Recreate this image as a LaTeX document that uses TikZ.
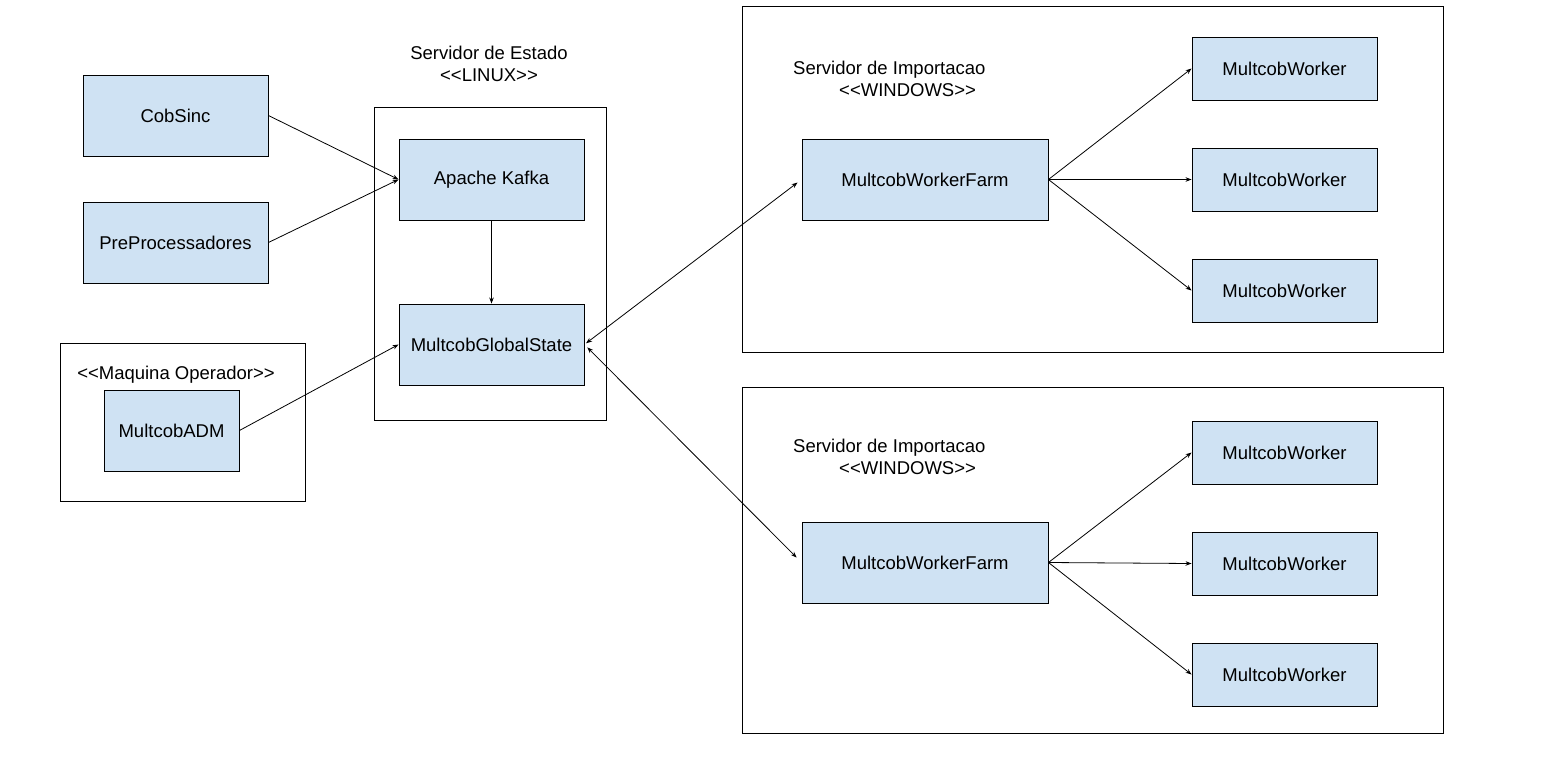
\documentclass[tikz,border=0pt]{standalone}
\usepackage{fontspec}
\setmainfont{Liberation Sans}[Ligatures=TeXOff]
\usepackage{xcolor}
\usetikzlibrary{arrows.meta,positioning}
\definecolor{boxblue}{HTML}{CFE2F3}

\begin{document}
\begin{tikzpicture}[x=1pt, y=-1pt,
    comp/.style={draw=black, fill=boxblue, line width=0.9pt, inner sep=0pt,
        minimum width=185pt, minimum height=81pt,
        font=\fontsize{18.5}{22}\selectfont},
    worker/.style={comp, minimum height=63pt},
    frame/.style={draw=black, line width=0.9pt},
    lbl/.style={inner sep=0pt, font=\fontsize{18.5}{22}\selectfont},
    link/.style={-{Stealth[length=6pt,width=4.5pt]}, line width=0.8pt}]
    \useasboundingbox (0,0) rectangle (1550,763);

    % Frames
    \draw[frame] (60,343) rectangle (305,501);
    \draw[frame] (374,107) rectangle (606,420);
    \draw[frame] (742,6) rectangle (1443,352);
    \draw[frame] (742,387) rectangle (1443,733);

    % Frame labels
    \node[lbl, align=center] (linuxlbl) at (489,64) {Servidor de Estado\\<<LINUX>>};
    \node[lbl] (oplbl) at (176,375) {<<Maquina Operador>>};
    \node[lbl, align=left, anchor=west] (winlblA) at (793,79)
        {Servidor de Importacao\\\hspace*{46pt}<<WINDOWS>>};
    \node[lbl, align=left, anchor=west] (winlblB) at (793,457)
        {Servidor de Importacao\\\hspace*{46pt}<<WINDOWS>>};

    % Left components
    \node[comp] (cobsinc) at (175.5,115.5) {CobSinc};
    \node[comp] (prep) at (175.5,242.5) {PreProcessadores};
    \node[comp, minimum width=135pt] (adm) at (171.5,430.5) {MultcobADM};

    % Servidor de Estado
    \node[comp] (kafka) at (491.5,179.5) {Apache Kafka};
    \node[comp] (global) at (491.5,344.5) {MultcobGlobalState};

    % Servidores de Importacao
    \node[comp, minimum width=246pt] (farmA) at (925,179.5) {MultcobWorkerFarm};
    \node[comp, minimum width=246pt] (farmB) at (925,562.5) {MultcobWorkerFarm};
    \foreach \i/\y in {1/68.5, 2/179.5, 3/290.5} {
        \node[worker] (wa\i) at (1284.5,\y) {MultcobWorker};
    }
    \foreach \i/\y in {1/452.5, 2/563.5, 3/674.5} {
        \node[worker] (wb\i) at (1284.5,\y) {MultcobWorker};
    }

    % Connectors
    \draw[link] (cobsinc.east) -- (kafka.west);
    \draw[link] (prep.east) -- (kafka.west);
    \draw[link] (adm.east) -- (global.west);
    \draw[link] (kafka) -- (global);
    \draw[link, {Stealth[length=6pt,width=4.5pt]}-{Stealth[length=6pt,width=4.5pt]},
        shorten <=2pt, shorten >=5pt] (global.east) -- (farmA.west);
    \draw[link, {Stealth[length=6pt,width=4.5pt]}-{Stealth[length=6pt,width=4.5pt]},
        shorten <=4pt, shorten >=7pt] (global.east) -- (farmB.west);
    \foreach \i in {1,2,3} {
        \draw[link] (farmA.east) -- (wa\i.west);
        \draw[link] (farmB.east) -- (wb\i.west);
    }
\end{tikzpicture}
\end{document}
